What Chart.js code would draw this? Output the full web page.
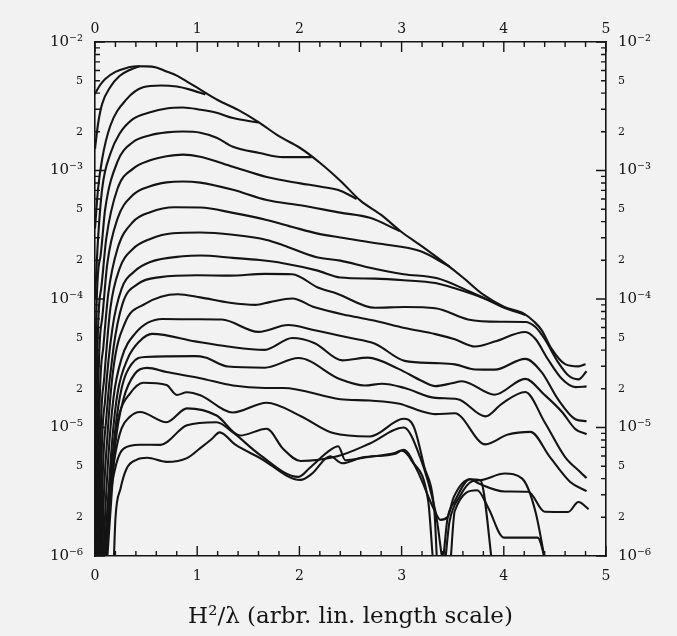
<!DOCTYPE html>
<html><head><meta charset="utf-8">
<script src="https://cdn.jsdelivr.net/npm/chart.js@4"></script>
<style>html,body{margin:0;padding:0;background:#f2f2f2;}canvas{display:block;}</style>
</head><body>
<canvas id="c" width="677" height="636"></canvas>
<script>
// ---- tick values / labels ----
const xTickValues = [0,0.2,0.4,0.6,0.8,1,1.2,1.4,1.6,1.8,2,2.2,2.4,2.6,2.8,3,3.2,3.4,3.6,3.8,4,4.2,4.4,4.6,4.8,5];
const xTickLabels = ['0','','','','','1','','','','','2','','','','','3','','','','','4','','','','','5'];
const yTickValues = [1e-6,2e-6,3e-6,4e-6,5e-6,6e-6,7e-6,8e-6,9e-6,
  1e-5,2e-5,3e-5,4e-5,5e-5,6e-5,7e-5,8e-5,9e-5,
  1e-4,2e-4,3e-4,4e-4,5e-4,6e-4,7e-4,8e-4,9e-4,
  1e-3,2e-3,3e-3,4e-3,5e-3,6e-3,7e-3,8e-3,9e-3,1e-2];
const yTickLabels = ['10⁻⁶','2','','','5','','','','',
  '10⁻⁵','2','','','5','','','','',
  '10⁻⁴','2','','','5','','','','',
  '10⁻³','2','','','5','','','','','10⁻²'];
const xTitle = 'H²/λ (arbr. lin. length scale)';

// ---- curves (x, value) ----
const c1x = [0,0.05,0.1,0.2,0.3,0.4,0.5,0.6,0.7,0.8,0.9,1.0,1.2,1.4,1.6,1.8,2.0,2.2,2.4,2.6,2.8,3.0,3.2,3.4,3.6,3.8,4.0,4.2,4.3,4.37,4.47,4.6,4.73,4.8];
const c1y = [3.94e-3,4.63e-3,5.16e-3,5.85e-3,6.26e-3,6.47e-3,6.46e-3,6.34e-3,5.89e-3,5.48e-3,4.91e-3,4.41e-3,3.54e-3,2.96e-3,2.38e-3,1.85e-3,1.51e-3,1.15e-3,8.33e-4,5.80e-4,4.51e-4,3.32e-4,2.57e-4,1.96e-4,1.47e-4,1.08e-4,8.70e-5,7.66e-5,6.63e-5,5.73e-5,4.07e-5,3.11e-5,2.99e-5,3.11e-5];
const c2x = [0,0.03,0.07,0.15,0.24,0.34,0.44];
const c2y = [1.47e-3,2.31e-3,3.30e-3,4.47e-3,5.44e-3,6.06e-3,6.51e-3];
const c3x = [0,0.03,0.07,0.15,0.31,0.47,0.64,0.8,0.93,1.08];
const c3y = [3.52e-4,7.21e-4,1.23e-3,2.23e-3,3.59e-3,4.44e-3,4.59e-3,4.50e-3,4.26e-3,3.9e-3];
const c4x = [0,0.03,0.07,0.15,0.24,0.37,0.54,0.7,0.86,1.03,1.19,1.35,1.6];
const c4y = [1.0e-4,2.95e-4,7.21e-4,1.35e-3,1.93e-3,2.51e-3,2.84e-3,3.04e-3,3.09e-3,2.97e-3,2.81e-3,2.56e-3,2.36e-3];
const c5x = [0,0.01,0.05,0.1,0.22,0.37,0.54,0.7,0.86,1.03,1.19,1.35,1.61,1.84,2.12];
const c5y = [7e-7,5.89e-5,2.06e-4,5.04e-4,1.17e-3,1.66e-3,1.88e-3,1.98e-3,2.01e-3,1.97e-3,1.80e-3,1.53e-3,1.37e-3,1.27e-3,1.27e-3];
const c6x = [0.01,0.02,0.06,0.11,0.22,0.37,0.54,0.7,0.86,1.03,1.35,1.68,2.01,2.2,2.4,2.56];
const c6y = [7e-7,2.88e-5,1.20e-4,2.95e-4,7.21e-4,1.03e-3,1.20e-3,1.29e-3,1.33e-3,1.28e-3,1.07e-3,8.89e-4,7.94e-4,7.50e-4,6.97e-4,6.0e-4];
const c7x = [0.02,0.03,0.07,0.12,0.22,0.37,0.54,0.7,0.86,1.03,1.35,1.68,2.01,2.4,2.69,2.98];
const c7y = [7e-7,1.68e-5,7.04e-5,1.88e-4,4.21e-4,6.44e-4,7.55e-4,8.08e-4,8.22e-4,8.05e-4,7.07e-4,5.89e-4,5.36e-4,4.70e-4,4.28e-4,3.38e-4];
const c8x = [0.03,0.04,0.08,0.13,0.22,0.37,0.54,0.78,1.03,1.35,1.68,1.94,2.17,2.4,2.79,3.18,3.47];
const c8y = [7e-7,9.84e-6,4.12e-5,1.10e-4,2.46e-4,3.97e-4,4.74e-4,5.17e-4,5.15e-4,4.68e-4,4.12e-4,3.62e-4,3.24e-4,3.01e-4,2.69e-4,2.36e-4,1.79e-4];
const c9x = [0.04,0.05,0.09,0.15,0.24,0.37,0.54,0.76,1.03,1.35,1.68,1.84,2.17,2.4,2.69,3.02,3.35,3.67,3.93];
const c9y = [7e-7,5.75e-6,2.41e-5,8.42e-5,1.72e-4,2.45e-4,2.93e-4,3.25e-4,3.29e-4,3.16e-4,2.88e-4,2.62e-4,2.11e-4,1.99e-4,1.75e-4,1.56e-4,1.45e-4,1.14e-4,9.19e-5];
const c10x = [0.05,0.06,0.1,0.17,0.26,0.39,0.54,0.86,1.03,1.35,1.61,1.84,2.17,2.4,2.74,3.02,3.33,3.52,3.82,3.98,4.21];
const c10y = [7e-7,4.02e-6,1.68e-5,5.89e-5,1.20e-4,1.65e-4,1.94e-4,2.15e-4,2.18e-4,2.09e-4,2.01e-4,1.90e-4,1.67e-4,1.47e-4,1.44e-4,1.40e-4,1.33e-4,1.21e-4,1.0e-4,8.70e-5,7.51e-5];
const c11x = [0.06,0.07,0.11,0.18,0.27,0.42,0.64,1.0,1.32,1.66,1.93,2.18,2.37,2.74,3.03,3.33,3.65,3.96,4.21,4.31,4.4,4.53,4.63,4.73,4.81];
const c11y = [7e-7,2.81e-6,1.18e-5,4.12e-5,9.21e-5,1.31e-4,1.48e-4,1.53e-4,1.52e-4,1.57e-4,1.56e-4,1.23e-4,1.10e-4,8.54e-5,8.66e-5,8.48e-5,6.93e-5,6.65e-5,6.63e-5,6.05e-5,4.88e-5,3.23e-5,2.55e-5,2.37e-5,2.74e-5];
const c12x = [0.07,0.08,0.12,0.18,0.29,0.49,0.81,1.03,1.32,1.57,1.71,1.93,2.15,2.48,2.74,3.03,3.33,3.52,3.72,3.91,4.21,4.31,4.43,4.57,4.7,4.81];
const c12y = [7e-7,1.97e-6,8.23e-6,2.88e-5,6.42e-5,9.15e-5,1.09e-4,1.03e-4,9.35e-5,9.0e-5,9.46e-5,1.01e-4,8.62e-5,7.43e-5,6.77e-5,5.95e-5,5.33e-5,4.86e-5,4.27e-5,4.66e-5,5.54e-5,4.88e-5,3.41e-5,2.38e-5,2.06e-5,2.09e-5];
const c13x = [0.08,0.09,0.13,0.18,0.26,0.39,0.66,1.0,1.24,1.6,1.89,2.15,2.48,2.74,3.03,3.33,3.52,3.72,3.91,4.21,4.37,4.53,4.7,4.81];
const c13y = [7e-7,1.37e-6,5.75e-6,1.68e-5,3.44e-5,5.36e-5,6.98e-5,6.95e-5,6.92e-5,5.55e-5,6.27e-5,5.71e-5,5.01e-5,4.49e-5,3.30e-5,3.17e-5,3.10e-5,2.83e-5,2.82e-5,3.42e-5,2.70e-5,1.66e-5,1.16e-5,1.12e-5];
const c14x = [0.1,0.13,0.17,0.22,0.32,0.44,0.56,0.98,1.3,1.66,1.93,2.15,2.42,2.67,2.97,3.2,3.33,3.49,3.59,3.91,4.21,4.4,4.57,4.7,4.81];
const c14y = [9.6e-7,2.81e-6,8.23e-6,1.84e-5,3.43e-5,4.72e-5,5.35e-5,4.68e-5,4.27e-5,4.02e-5,4.97e-5,4.53e-5,3.33e-5,3.50e-5,2.86e-5,2.30e-5,2.10e-5,2.21e-5,2.29e-5,1.80e-5,2.39e-5,1.79e-5,1.32e-5,9.72e-6,8.87e-6];
const c15x = [0.11,0.15,0.2,0.26,0.36,0.49,0.98,1.08,1.3,1.66,1.99,2.4,2.64,2.81,3.03,3.33,3.55,3.82,3.98,4.21,4.4,4.6,4.75,4.81];
const c15y = [9.6e-7,3.36e-6,9.84e-6,2.01e-5,3.13e-5,3.54e-5,3.59e-5,3.50e-5,2.98e-5,2.92e-5,3.47e-5,2.37e-5,2.12e-5,2.19e-5,2.03e-5,1.70e-5,1.66e-5,1.22e-5,1.53e-5,1.89e-5,1.10e-5,5.89e-6,4.49e-6,4.04e-6];
const c16x = [0.12,0.16,0.2,0.28,0.39,0.51,0.7,1.03,1.35,1.66,1.84,2.4,2.69,2.98,3.18,3.33,3.52,3.82,4.04,4.26,4.45,4.65,4.81];
const c16y = [9.6e-7,2.81e-6,7.52e-6,1.68e-5,2.62e-5,2.91e-5,2.70e-5,2.42e-5,2.12e-5,2.03e-5,2.03e-5,1.66e-5,1.62e-5,1.53e-5,1.35e-5,1.27e-5,1.29e-5,7.39e-6,8.81e-6,9.25e-6,5.91e-6,3.77e-6,3.20e-6];
const c17x = [0.09,0.13,0.18,0.24,0.34,0.47,0.7,0.8,0.9,1.03,1.35,1.68,2.01,2.33,2.69,3.02,3.12,3.22,3.32,3.36,3.38,3.45,3.52,3.67,3.77,3.9];
const c17y = [9.6e-7,2.81e-6,6.88e-6,1.29e-5,1.83e-5,2.23e-5,2.14e-5,1.79e-5,1.88e-5,1.78e-5,1.31e-5,1.56e-5,1.23e-5,9.05e-6,8.51e-6,1.17e-5,1.01e-5,5.02e-6,2.28e-6,7e-7,7e-7,1.97e-6,2.67e-6,3.96e-6,3.89e-6,7e-7];
const c18x = [0.1,0.14,0.2,0.26,0.34,0.44,0.7,0.9,1.19,1.42,1.68,1.84,2.01,2.37,2.69,3.02,3.18,3.33,3.44,3.46,3.52,3.74,3.85,4.0,4.33,4.44];
const c18y = [9.6e-7,2.81e-6,6.29e-6,9.84e-6,1.21e-5,1.32e-5,1.10e-5,1.41e-5,1.24e-5,8.66e-6,9.79e-6,6.83e-6,5.49e-6,5.97e-6,7.51e-6,1.0e-5,5.90e-6,2.24e-6,7e-7,7e-7,2.24e-6,3.25e-6,2.35e-6,1.39e-6,1.39e-6,7e-7];
const c19x = [0.11,0.15,0.21,0.28,0.44,0.64,0.9,1.19,1.35,1.61,1.99,2.1,2.3,2.38,2.45,2.64,2.94,3.02,3.15,3.32,3.38,3.45,3.51,3.67,3.75,4.01,4.24,4.4,4.63,4.73,4.83];
const c19y = [9.6e-7,2.81e-6,5.26e-6,6.85e-6,7.34e-6,7.33e-6,1.04e-5,1.10e-5,9.15e-6,6.16e-6,4.13e-6,4.84e-6,6.66e-6,7.14e-6,5.56e-6,5.84e-6,6.37e-6,6.72e-6,4.68e-6,2.28e-6,1.91e-6,2.01e-6,2.87e-6,3.96e-6,3.68e-6,3.18e-6,3.16e-6,2.21e-6,2.20e-6,2.63e-6,2.32e-6];
const c20x = [0.185,0.2,0.25,0.31,0.41,0.51,0.7,0.9,1.03,1.14,1.22,1.37,1.61,2.01,2.12,2.3,2.42,2.61,2.94,3.0,3.1,3.26,3.33,3.4,3.47,3.57,3.69,3.77,4.01,4.18,4.31,4.43];
const c20y = [9.6e-7,1.96e-6,3.35e-6,4.79e-6,5.62e-6,5.81e-6,5.40e-6,5.78e-6,6.91e-6,8.10e-6,9.16e-6,7.38e-6,5.82e-6,3.91e-6,4.35e-6,5.98e-6,5.27e-6,5.84e-6,6.26e-6,6.59e-6,5.50e-6,2.69e-6,7e-7,7e-7,1.87e-6,2.92e-6,3.82e-6,3.89e-6,4.38e-6,4.0e-6,2.21e-6,7e-7];

const curves = [[c1x,c1y],[c2x,c2y],[c3x,c3y],[c4x,c4y],[c5x,c5y],[c6x,c6y],[c7x,c7y],[c8x,c8y],[c9x,c9y],[c10x,c10y],
  [c11x,c11y],[c12x,c12y],[c13x,c13y],[c14x,c14y],[c15x,c15y],[c16x,c16y],[c17x,c17y],[c18x,c18y],[c19x,c19y],[c20x,c20y]];

const INK = '#141414';
const SERIF = "'DejaVu Serif','Liberation Serif',serif";

const inwardTicks = {
  id: 'inwardTicks',
  afterDraw(chart) {
    const {ctx, chartArea: a, scales} = chart;
    ctx.save();
    ctx.strokeStyle = INK; ctx.lineWidth = 1.4;
    ctx.beginPath();
    xTickValues.forEach((v, i) => {
      const p = scales.x.getPixelForValue(v);
      const len = xTickLabels[i] ? 10 : 5;
      ctx.moveTo(p, a.bottom); ctx.lineTo(p, a.bottom - len);
      ctx.moveTo(p, a.top); ctx.lineTo(p, a.top + len);
    });
    yTickValues.forEach((v, i) => {
      const p = scales.y.getPixelForValue(v);
      const len = yTickLabels[i].length > 1 ? 10 : 5;
      ctx.moveTo(a.left, p); ctx.lineTo(a.left + len, p);
      ctx.moveTo(a.right, p); ctx.lineTo(a.right - len, p);
    });
    ctx.stroke();
    ctx.restore();
  }
};

const yFont = (c) => (yTickLabels[c.index] || '').length > 1 ? {family: SERIF, size: 15} : {family: SERIF, size: 11};
const xScaleBase = (pos) => ({
  type: 'linear', position: pos, min: 0, max: 5,
  afterBuildTicks: (s) => { s.ticks = xTickValues.map(v => ({value: v})); },
  ticks: {autoSkip: false, maxRotation: 0, callback: (v, i) => xTickLabels[i], color: INK,
          font: {family: SERIF, size: 14}, padding: pos === 'bottom' ? 12 : 4},
  grid: {display: false, drawTicks: false},
  border: {display: true, color: INK, width: 1.6}
});
const yScaleBase = (pos) => ({
  type: 'logarithmic', position: pos, min: 1e-6, max: 1e-2,
  afterBuildTicks: (s) => { s.ticks = yTickValues.map(v => ({value: v})); },
  ticks: {autoSkip: false, callback: (v, i) => yTickLabels[i], color: INK, font: yFont, padding: 12},
  grid: {display: false, drawTicks: false},
  border: {display: true, color: INK, width: 1.6}
});

const xs = xScaleBase('bottom');
xs.title = {display: true, text: xTitle, color: INK, font: {family: SERIF, size: 23}, padding: {top: 0, bottom: 5}};
xs.afterFit = (s) => { s.height = 80; };
const xt = xScaleBase('top');
xt.afterFit = (s) => { s.height = 42; };
const yl = yScaleBase('left');
yl.afterFit = (s) => { s.width = 95; };
const yr = yScaleBase('right');
yr.afterFit = (s) => { s.width = 71; };

new Chart(document.getElementById('c'), {
  type: 'line',
  data: {
    datasets: curves.map(([cx, cy], k) => ({
      label: 'curve ' + (k + 1),
      data: cx.map((x, i) => ({x: x, y: cy[i]})),
      xAxisID: 'x', yAxisID: 'y',
      borderColor: INK, borderWidth: 2.1, pointRadius: 0, fill: false,
      cubicInterpolationMode: 'monotone'
    }))
  },
  options: {
    responsive: false, animation: false, devicePixelRatio: 1,
    layout: {padding: 0},
    plugins: {legend: {display: false}, tooltip: {enabled: false}, title: {display: false}},
    scales: {x: xs, x2: xt, y: yl, y2: yr}
  },
  plugins: [inwardTicks]
});
</script>
</body></html>
